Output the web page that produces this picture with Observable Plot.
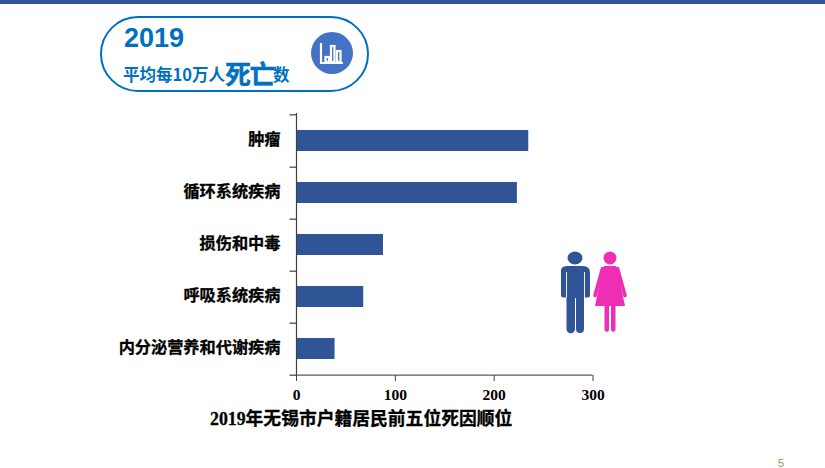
<!DOCTYPE html>
<html><head><meta charset="utf-8">
<script src="https://cdn.jsdelivr.net/npm/d3@7"></script>
<script src="https://cdn.jsdelivr.net/npm/@observablehq/plot@0.6"></script>
<style>
html,body{margin:0;padding:0;background:#fff;width:825px;height:468px;overflow:hidden}
#wrap{position:relative;width:825px;height:468px}
#wrap>*{position:absolute}
.t{font-family:"Noto Sans CJK SC",sans-serif;font-weight:700;white-space:nowrap;line-height:1}
</style></head><body>
<div id="wrap">
<div style="left:0;top:0;width:825px;height:4px;background:#2f5597"></div>
<div style="left:100px;top:16px;width:265px;height:72px;border:2.5px solid #0070c0;border-radius:38px;background:#fff"></div>
<div class="t" style="left:124px;top:23px;font:700 27px 'Liberation Sans',Arial,sans-serif;color:#0070c0">2019</div>
<div class="t" style="left:123px;top:54px;color:#0070c0;font-size:16.5px;height:28px;display:flex;align-items:flex-end"><span>平均每10万人</span><span style="font-size:26px;position:relative;top:4px;letter-spacing:-1.5px;-webkit-text-stroke:.4px #0070c0">死亡</span><span style="margin-left:-1px">数</span></div>
<svg style="left:310px;top:31px" width="44" height="44" viewBox="0 0 44 44">
<circle cx="22" cy="22" r="21" fill="#4472c4"/>
<g fill="none" stroke="#fff" stroke-width="2.2"><path d="M11 12V32H33"/><rect x="15.5" y="26" width="3.5" height="5"/><rect x="21" y="15" width="3.5" height="16"/><rect x="27" y="20" width="3.5" height="11"/></g>
</svg>
<svg style="left:555px;top:247px" width="80" height="90" viewBox="555 247 80 90">
<g fill="#2f5597">
<ellipse cx="575" cy="258" rx="7.5" ry="6.500"/>
<path d="M567 266H583Q590 266 590 273V295.500a2 2 0 0 1-2 2h-2.500a1.500 1.500 0 0 1-1.500-1V329a3.500 3.500 0 0 1-8 0V298h-1V329a4 4 0 0 1-8.500 0V296.500a1.500 1.500 0 0 1-1.500 1h-2a2 2 0 0 1-2-2V273Q560 266 567 266Z"/>
</g>
<path d="M566.500 272V297M584.500 272V297" stroke="#fff" stroke-width=".9" fill="none"/>
<g fill="#ee2fb5">
<circle cx="610" cy="258" r="6.500"/>
<path d="M604 266H616L619 277L625 306H595L601 277Z"/>
<path d="M604.500 305H609V329.500a2.250 2.250 0 0 1-4.500 0ZM611 305H615.500V329.500a2.250 2.250 0 0 1-4.500 0Z"/>
</g>
<path d="M602.500 268.500L595 295.500M617.500 268.500L625 295.500" stroke="#ee2fb5" stroke-width="3.600" stroke-linecap="round" fill="none"/>
</svg>
<div id="chart" style="left:0;top:0"></div>
<div class="t" style="left:210px;top:410.500px;font-family:'Liberation Serif','Noto Sans CJK SC',serif;font-size:17.800px;color:#000;-webkit-text-stroke:.3px #000">2019年无锡市户籍居民前五位死因顺位</div>
<div style="left:778px;top:457px;font:11px 'Liberation Sans',sans-serif;color:#8a9a5b">5</div>
</div>
<script>
const causes = ["肿瘤","循环系统疾病","损伤和中毒","呼吸系统疾病","内分泌营养和代谢疾病"];
const deaths = [235,223.5,88,68,39];
const xTicks = [0,100,200,300];
const rows = causes.map((c,i)=>({cause:c,value:deaths[i]}));
const H=468, MT=113, MB=93;
const step=(H-MT-MB)/causes.length;
const axisColor="#404040";
const plot = Plot.plot({
  width:825,height:H,marginLeft:296,marginRight:232.5,marginTop:MT,marginBottom:MB,
  style:{background:"transparent",overflow:"visible"},
  x:{domain:[0,300],ticks:xTicks},
  y:{domain:causes,paddingInner:0.6,paddingOuter:0.3,align:0.5},
  marks:[
    Plot.barX(rows,{x:"value",y:"cause",fill:"#2f5597"}),
    Plot.ruleX([0],{stroke:axisColor,strokeWidth:1.2}),
    Plot.ruleY([causes[0]],{y:d=>d,x1:-6.5,x2:0,dy:-step/2,stroke:axisColor,strokeWidth:1.2}),
    Plot.ruleY(causes,{y:d=>d,x1:-6.5,x2:0,dy:step/2,stroke:axisColor,strokeWidth:1.2}),
    Plot.ruleY([causes[4]],{y:d=>d,x1:0,x2:300,dy:step/2,stroke:"#595959",strokeWidth:1.2}),
    Plot.axisX(xTicks,{anchor:"bottom",tickSize:6,tickPadding:7,stroke:axisColor,
      fontFamily:"Liberation Serif,serif",fontWeight:700,fontSize:15.500,fill:"#000",label:null}),
    Plot.axisY(causes,{anchor:"left",tickSize:0,tickPadding:16,textStroke:"#000",textStrokeWidth:0.3,dy:-1,
      fontFamily:"Noto Sans CJK SC,sans-serif",fontWeight:700,fontSize:16.200,fill:"#000",label:null})
  ]
});
document.getElementById("chart").append(plot);
</script>
</body></html>
